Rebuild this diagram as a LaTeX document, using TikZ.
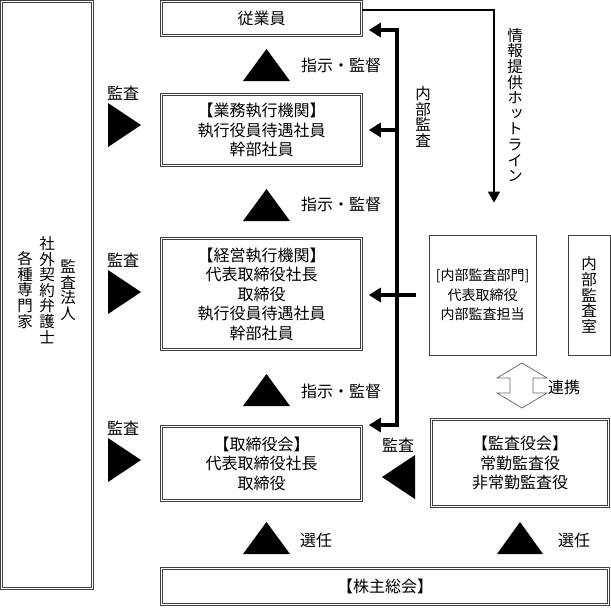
\documentclass[tikz,border=0pt]{standalone}
\usepackage{fontspec}
\setmainfont{Noto Sans CJK JP}
\newfontfamily\tatefont[RawFeature=+vert]{Noto Sans CJK JP}
\usetikzlibrary{arrows.meta}
\tikzstyle{box}=[draw=black!75, double=white, double distance=1.6pt, line width=0.6pt, inner sep=0pt, align=center]
\tikzstyle{plainbox}=[draw=black!75, line width=0.8pt, inner sep=0pt, align=center]
\tikzstyle{tate}=[inner sep=0pt, align=center, font=\tatefont\fontsize{15.5}{15.6}\selectfont]
\tikzstyle{audit}=[line width=4.5pt]
\tikzstyle{hotline}=[line width=1.3pt, -{Triangle[length=11pt,width=12pt]}]

\begin{document}
\begin{tikzpicture}[x=1pt, y=-1pt, font=\fontsize{16}{19.5}\selectfont]

    \useasboundingbox (0,0) rectangle (611,608);

    % boxes
    \node[box, minimum width=91pt, minimum height=587pt] (gaibu) at (47,295) {};
    \node[box, minimum width=200pt, minimum height=34pt] (staff) at (261.5,18.5) {従業員};
    \node[box, minimum width=200pt, minimum height=71pt] (gyomu) at (261.5,130)
        {【業務執行機関】\\執行役員待遇社員\\幹部社員};
    \node[box, minimum width=200pt, minimum height=111pt] (keiei) at (261.5,294)
        {【経営執行機関】\\代表取締役社長\\取締役\\執行役員待遇社員\\幹部社員};
    \node[box, minimum width=200pt, minimum height=74pt] (board) at (261.5,463.5)
        {【取締役会】\\代表取締役社長\\取締役};
    \node[box, minimum width=447pt, minimum height=36pt] (soukai) at (385,586.5) {【株主総会】};
    \node[box, minimum width=177pt, minimum height=87pt] (kansa) at (520,463)
        {【監査役会】\\常勤監査役\\非常勤監査役};
    \node[plainbox, minimum width=107pt, minimum height=120pt, font=\fontsize{14}{19.5}\selectfont]
        (naibu) at (482.5,295) {[内部監査部門]\\代表取締役\\内部監査担当};
    \node[plainbox, minimum width=42pt, minimum height=120pt] (shitsu) at (589,295) {};

    % vertical texts
    \node[tate] (hojin) at (68,290) {監\\査\\法\\人};
    \node[tate] (bengo) at (47,290) {社\\外\\契\\約\\弁\\護\\士};
    \node[tate] (senmon) at (25,290) {各\\種\\専\\門\\家};
    \node[tate] (shitsulbl) at (shitsu) {内\\部\\監\\査\\室};
    \node[tate] (naibulbl) at (423,117) {内\\部\\監\\査};
    \node[tate] (hotlbl) at (515,105) {情\\報\\提\\供\\ホ\\ッ\\ト\\ラ\\イ\\ン};

    % triangles
    \foreach \y in {65,205,390,538}
        \fill (243,\y+16) -- (290,\y+16) -- (266.5,\y-16) -- cycle;
    \fill (497,554) -- (543,554) -- (520,522) -- cycle;
    \foreach \y in {125,292,460}
        \fill (108,\y-22) -- (141,\y) -- (108,\y+22) -- cycle;
    \fill (415,455) -- (382,477) -- (415,499) -- cycle;

    \foreach \pos/\name in {{(341,65)/sk1}, {(341,204)/sk2}, {(341,391)/sk3}}
        \node (\name) at \pos {指示・監督};
    \foreach \pos/\name in {{(123,93)/ka1}, {(123,260)/ka2}, {(123,428)/ka3}, {(398,445)/ka4}}
        \node (\name) at \pos {監査};
    \node (sen1) at (316,540) {選任};
    \node (sen2) at (574,540) {選任};
    \node (renkei) at (564,387) {連携};

    % 連携
    \draw[draw=black!60, line width=0.7pt] (510,378) -- (497,378) -- (522,363) -- (547,378) -- (533,378)
        -- (533,393) -- (547,393) -- (522,408) -- (497,393) -- (510,393) -- cycle;

    % internal audit
    \coordinate (top) at (397,30);
    \coordinate (bot) at (397,425);
    \draw[audit, {Triangle[length=12pt,width=14pt]}-{Triangle[length=12pt,width=14pt]}]
        ([xshift=7pt]staff.east |- top) -- (top) -- (bot) -- ([xshift=7pt]board.east |- bot);
    \draw[audit, -{Triangle[length=12pt,width=14pt]}] (top |- gyomu.east) -- ([xshift=7pt]gyomu.east);
    \draw[audit, -{Triangle[length=12pt,width=14pt]}, shorten <=13pt] (naibu.west)
        -- ([xshift=7pt]keiei.east |- naibu.west);

    % hotline
    \coordinate (hl) at (494,10);
    \draw[hotline, shorten >=32pt] (staff.east |- hl) -- (hl) -- (hl |- naibu.north);

\end{tikzpicture}
\end{document}
